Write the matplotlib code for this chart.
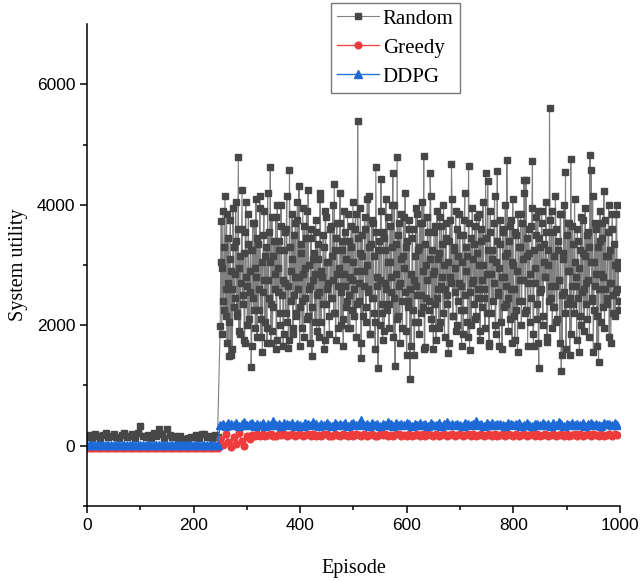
import numpy as np
import matplotlib.pyplot as plt

# Random policy: episodes 0-245 (every 5), then 250-999 (every episode)
random_pre = [150, 175, 130, 200, 160, 120, 185, 210, 140, 170,
              195, 150, 125, 180, 215, 145, 165, 190, 130, 205,
              330, 170, 140, 185, 135, 210, 160, 280, 190, 130,
              280, 175, 145, 160, 120, 170, 110, 100, 125, 150,
              140, 175, 130, 190, 200, 145, 165, 125, 180, 150]
# even episodes 250, 252, ..., 998
random_even = [
    1985, 3735, 2950, 2400, 3300, 2150, 3850, 2700, 1490, 3100, 1500, 2600, 3950, 2300, 2850,
    3400, 2200, 4800, 2950, 1850, 3600, 2500, 3200, 1700, 4050, 2650, 3350, 2100, 2900, 1300,
    3250, 2450, 3700, 1950, 2800, 3450, 2250, 4150, 1800, 3050, 2550, 3900, 2050, 3300, 1700,
    2750, 3550, 4628, 2350, 1900, 3150, 2600, 3800, 1750, 2950, 3400, 2200, 4000, 2500, 1650,
    3250, 2700, 3600, 2050, 1620, 4580, 2400, 3100, 1850, 3500, 2800, 2200, 3750, 2600, 4310,
    2300, 3350, 1950, 2850, 3650, 2450, 3900, 2150, 3000, 2650, 3450, 1490, 2750, 3200, 2050,
    3550, 2500, 3100, 1800, 4200, 2900, 2350, 3300, 1750, 3800, 2600, 3050, 2150, 3600, 2450,
    3150, 2750, 4350, 2200, 3450, 2850, 1950, 3700, 2550, 3250, 2100, 3900, 2650, 3100, 2400,
    1950, 3400, 2800, 3650, 2250, 3050, 2600, 3850, 2350, 5390, 2700, 3200, 1450, 3500, 2150,
    2900, 3600, 2300, 4100, 2550, 3300, 1850, 3750, 2450, 3150, 2050, 4620, 2650, 1295, 3400,
    2750, 4430, 2200, 3550, 1900, 3250, 2600, 3800, 2350, 3050, 2800, 4000, 4530, 2450, 1320,
    3350, 4800, 2150, 3700, 2700, 3100, 1950, 3790, 2550, 3300, 1500, 2400, 3600, 1113, 2850,
    3450, 2250, 1500, 3150, 2650, 3850, 2050, 3300, 2500, 3700, 2300, 4810, 1640, 3000, 2750,
    3550, 2400, 4535, 2100, 3250, 1600, 2900, 3650, 2450, 3100, 1950, 3800, 2650, 3350, 2200,
    3000, 2600, 3700, 2350, 1540, 3400, 2800, 4680, 2150, 3250, 2550, 3900, 2000, 3150, 2700,
    3500, 2250, 3050, 1850, 3750, 2500, 3300, 2050, 4645, 1590, 3450, 2700, 3100, 2350, 3650,
    2150, 3200, 2600, 3850, 1900, 3400, 2750, 3000, 2450, 4535, 2200, 4400, 1650, 3550, 2850,
    3250, 2400, 3700, 2000, 3050, 4560, 2550, 1650, 3350, 2800, 3600, 2300, 3150, 2650, 4740,
    2450, 3400, 2100, 3750, 1700, 3000, 2600, 3550, 2250, 1560, 3300, 2750, 3850, 2400, 3100,
    4415, 2200, 4415, 3450, 2700, 3200, 2050, 3650, 4730, 1650, 2950, 3500, 2350, 3900, 1290,
    3300, 2600, 3700, 2150, 3050, 2800, 3550, 1720, 3250, 5604, 2450, 3900, 2300, 3150, 2650,
    3600, 2100, 3400, 2750, 3850, 1240, 1500, 3200, 2550, 4545, 2350, 3700, 2900, 1500, 4760,
    2650, 3350, 2200, 3050, 2800, 3600, 2450, 1550, 3250, 2000, 3750, 2600, 3150, 2350, 3500,
    2750, 3300, 4827, 4580, 2400, 1560, 3050, 2650, 3600, 2150, 1390, 3400, 2850, 3700, 2300,
    4230, 2600, 3150, 2450, 3550, 1800, 3250, 2700, 3850, 2200, 3000, 2550, 4000, 2950, 2250]
# odd episodes 251, 253, ..., 999
random_odd = [
    3050, 1850, 3900, 2250, 4150, 2600, 1700, 3450, 2050, 3750, 2900, 1600, 3300, 2450, 4050,
    2150, 3600, 1900, 3150, 2700, 4250, 2350, 1750, 3550, 2800, 2000, 3850, 2550, 3250, 1650,
    3700, 2250, 2950, 4100, 1800, 3350, 2600, 3950, 2100, 1550, 3500, 2750, 3150, 1950, 4200,
    2450, 3050, 1700, 3800, 2300, 3400, 2850, 1600, 4000, 2550, 3250, 2000, 3650, 2750, 1850,
    3550, 2200, 4150, 2650, 1750, 3300, 2900, 3850, 1950, 2500, 3700, 2150, 4050, 2800, 1650,
    3200, 2400, 3950, 1800, 2950, 3450, 2100, 4250, 2600, 1700, 3600, 2300, 3100, 2850, 3750,
    1900, 3350, 2550, 4100, 2050, 2800, 3500, 1600, 3900, 2350, 3050, 2700, 1850, 3650, 2450,
    4000, 2200, 3250, 1750, 3700, 2650, 2950, 4200, 2000, 3400, 1650, 2850, 3550, 2300, 3850,
    2500, 1950, 3300, 2750, 4050, 2150, 3600, 1800, 2900, 3450, 2400, 3950, 1700, 3150, 2650,
    3800, 2050, 3000, 2600, 4150, 1850, 3350, 2450, 3700, 2200, 1600, 3550, 2800, 3250, 2000,
    3900, 2350, 1750, 3450, 2700, 4100, 2250, 3050, 1950, 3650, 2550, 3300, 1800, 4000, 2850,
    2100, 3500, 2650, 1700, 3850, 2400, 3150, 2950, 4200, 1900, 3400, 2300, 3750, 2600, 1650,
    3600, 2750, 2050, 3950, 2500, 3250, 1850, 3700, 2200, 4050, 2900, 1600, 3350, 2450, 3800,
    2250, 3100, 4150, 1950, 2850, 3550, 2350, 1750, 3900, 2600, 3200, 2050, 3650, 2800, 4000,
    1800, 3450, 2500, 3050, 1700, 3750, 2700, 4100, 2150, 3300, 2950, 1900, 3600, 2400, 3850,
    2650, 1650, 3500, 2250, 4200, 2900, 3150, 1800, 3700, 2550, 2000, 3950, 2750, 3350, 2100,
    3800, 2450, 3000, 1750, 3600, 2300, 4050, 2600, 1950, 3450, 2850, 3250, 1700, 3900, 2200,
    3100, 2700, 4150, 1850, 3400, 2500, 2950, 3750, 2050, 1600, 3550, 2800, 4000, 2350, 3200,
    1900, 3650, 2600, 3050, 4100, 2150, 1750, 3500, 2900, 3850, 2400, 3300, 2000, 3700, 2750,
    4200, 2250, 3150, 1650, 3600, 2850, 2450, 3950, 1850, 3250, 2700, 3800, 2100, 1700, 3450,
    2550, 3900, 2000, 3350, 2800, 4050, 1800, 3000, 2400, 3750, 2650, 1950, 3550, 2300, 4150,
    2050, 3250, 2750, 1700, 3850, 2500, 3100, 4000, 2200, 1600, 3500, 2900, 3700, 2450, 1850,
    3650, 2350, 4100, 2650, 1750, 3400, 2950, 2150, 3800, 2550, 3200, 1900, 3950, 2700, 2100,
    3550, 1800, 3050, 2450, 4150, 2250, 3700, 2850, 1650, 3300, 2600, 3900, 2050, 3450, 2800,
    1950, 3750, 2350, 3150, 4000, 2700, 1700, 3600, 2500, 3350, 2150, 3850, 2600, 3050, 2400]

# Greedy: every 5 episodes
greedy_pre = [-40, -38, -42, -41, -39, -40, -43, -38, -40, -41,
              -39, -42, -40, -38, -41, -40, -39, -42, -40, -38,
              -41, -40, -43, -39, -40, -38, -42, -40, -41, -39,
              -40, -38, -42, -40, -39, -41, -40, -43, -38, -40,
              -41, -39, -40, -42, -38, -40, -41, -39, -40, -42]
greedy_mid = [120, 20, 200, 60, -20, 150, 30, 210, 80, 0, 170, 110]
greedy_post = [
    180, 165, 195, 170, 190, 160, 180, 200, 170, 165, 190, 180, 195, 165, 175,
    190, 170, 180, 200, 165, 180, 190, 160, 195, 170, 180, 165, 190, 195, 170,
    165, 190, 180, 170, 195, 180, 160, 190, 170, 200, 180, 165, 190, 170, 180,
    195, 170, 165, 190, 180, 200, 170, 180, 160, 190, 195, 170, 180, 165, 190,
    170, 180, 195, 165, 190, 170, 200, 180, 165, 190, 170, 180, 195, 160, 180,
    190, 165, 180, 200, 170, 180, 190, 165, 195, 170, 180, 190, 160, 180, 195,
    170, 190, 165, 180, 195, 170, 190, 180, 165, 200, 170, 180, 190, 165, 180,
    195, 170, 190, 165, 180, 200, 170, 180, 190, 160, 180, 195, 170, 190, 165,
    180, 190, 170, 195, 165, 180, 190, 170, 200, 180, 165, 190, 170, 180, 195,
    170, 190, 180]

# DDPG: every 5 episodes
ddpg_pre = [10, 14, 6, 12, 8, 10, 15, 5, 10, 12,
            8, 14, 10, 6, 12, 10, 8, 14, 10, 6,
            12, 10, 15, 8, 10, 6, 14, 10, 12, 8,
            10, 6, 14, 10, 8, 12, 10, 15, 6, 10,
            12, 8, 10, 14, 6, 10, 12, 8, 10, 14]
ddpg_post = [
    340, 365, 330, 380, 355, 345, 370, 325, 360, 390, 340, 355, 375, 335, 360,
    350, 385, 330, 365, 345, 410, 340, 360, 325, 370, 355, 345, 380, 335, 365,
    350, 330, 375, 360, 340, 395, 355, 325, 365, 345, 370, 350, 335, 385, 345,
    360, 340, 370, 330, 355, 380, 345, 365, 420, 340, 355, 330, 375, 350, 360,
    335, 365, 345, 390, 355, 325, 370, 345, 360, 340, 380, 355, 330, 365, 350,
    375, 340, 360, 335, 385, 350, 345, 370, 330, 360, 395, 345, 355, 340, 365,
    350, 330, 375, 355, 340, 365, 410, 345, 360, 335, 370, 350, 380, 340, 355,
    365, 345, 330, 375, 355, 340, 360, 385, 335, 350, 370, 345, 325, 365, 355,
    340, 380, 350, 360, 335, 370, 345, 390, 355, 330, 365, 350, 375, 340, 360,
    345, 370, 335, 355, 385, 340, 360, 350, 330, 375, 355, 365, 340, 380, 350]

random_post = np.empty(len(random_even) + len(random_odd))
random_post[0::2] = random_even
random_post[1::2] = random_odd
random_y = np.concatenate([random_pre, random_post])
random_x = np.concatenate([np.arange(0, 5 * len(random_pre), 5),
                           np.arange(250, 250 + len(random_post))])
greedy_y = np.array(greedy_pre + greedy_mid + greedy_post)
greedy_x = np.arange(0, 5 * len(greedy_y), 5)
ddpg_y = np.array(ddpg_pre + ddpg_post)
ddpg_x = np.arange(0, 5 * len(ddpg_y), 5)

serif = 'Liberation Serif'
plt.rcParams['font.family'] = 'Liberation Sans'

fig = plt.figure(figsize=(6.41, 5.8), dpi=100)
ax = fig.add_axes([0.1357, 0.1276, 0.8313, 0.831])

ax.plot(random_x, random_y, color='#808080', lw=0.8, marker='s', ms=3.8,
        mfc='#474747', mec='#474747', label='Random')
ax.plot(greedy_x, greedy_y, color='#f04848', lw=1.0, marker='o', ms=4.8,
        mfc='#ee3b3b', mec='#ee3b3b', label='Greedy')
ax.plot(ddpg_x, ddpg_y, color='#2a72d8', lw=1.0, marker='^', ms=5.6,
        mfc='#1d6ad6', mec='#1d6ad6', label='DDPG')

ax.set_xlim(0, 1000)
ax.set_ylim(-1000, 7000)
ax.set_xticks([0, 200, 400, 600, 800, 1000])
ax.set_xticks(np.arange(100, 1000, 200), minor=True)
ax.set_yticks([0, 2000, 4000, 6000])
ax.set_yticks([-1000, 1000, 3000, 5000], minor=True)
ax.tick_params(which='major', direction='out', length=5, width=1.1, labelsize=12.5)
ax.tick_params(which='minor', direction='out', length=3, width=1.1)
for s in ['top', 'right']:
    ax.spines[s].set_visible(False)
for s in ['left', 'bottom']:
    ax.spines[s].set_linewidth(1.1)

ax.set_xlabel('Episode', fontsize=14.5, family=serif, labelpad=19)
ax.set_ylabel('System utility', fontsize=14.5, family=serif, labelpad=6)

leg = ax.legend(loc='upper left', bbox_to_anchor=(0.516, 0.995),
                bbox_transform=fig.transFigure, prop={'family': serif, 'size': 15},
                fancybox=False, frameon=True, handlelength=2.0, handletextpad=0.2,
                borderpad=0.3, labelspacing=0.45, borderaxespad=0, numpoints=1)
leg.get_frame().set_edgecolor('#555555')
leg.get_frame().set_linewidth(1.0)

fig.savefig('out.png', dpi=100)
